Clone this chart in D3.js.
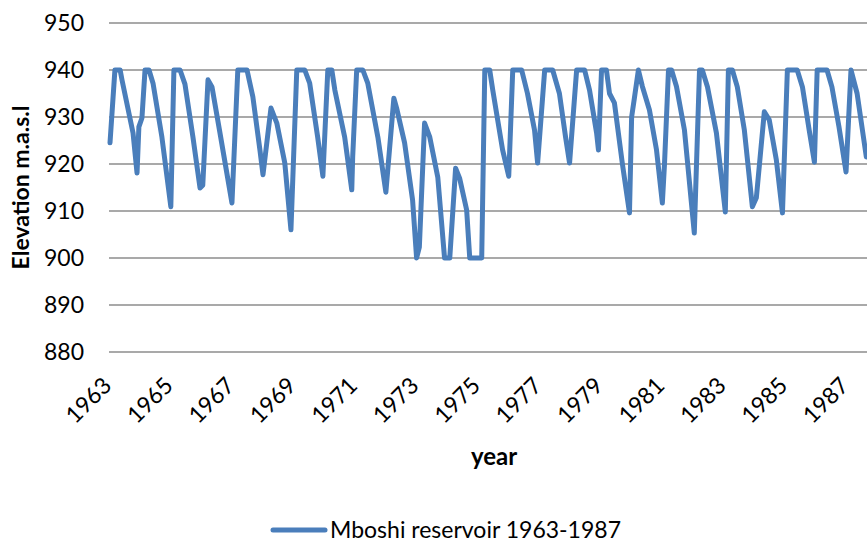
<!DOCTYPE html>
<html>
<head>
<meta charset="utf-8">
<script src="https://cdn.jsdelivr.net/npm/d3@7"></script>
<style>
  html, body { margin: 0; padding: 0; background: #fff; }
  svg { display: block; }
  text { font-family: Lato, "Open Sans", sans-serif; fill: #000; }
</style>
</head>
<body>
<svg id="chart" width="867" height="543"></svg>
<script>
// Mboshi reservoir water level, 1963-1987 (decimal year, elevation in m.a.s.l)
const years = [
  1963.00, 1963.16, 1963.33, 1963.39, 1963.75, 1963.88, 1963.94, 1964.04, 1964.14, 1964.27,
  1964.40, 1964.69, 1964.98, 1965.08, 1965.28, 1965.44, 1965.70, 1965.93, 1966.02, 1966.19,
  1966.32, 1966.58, 1966.97, 1967.16, 1967.46, 1967.65, 1967.88, 1967.98, 1968.24, 1968.43,
  1968.69, 1968.89, 1969.08, 1969.34, 1969.50, 1969.76, 1969.93, 1970.09, 1970.22, 1970.32,
  1970.64, 1970.87, 1970.90, 1971.03, 1971.23, 1971.39, 1971.72, 1971.98, 1972.24, 1972.33,
  1972.59, 1972.85, 1972.98, 1973.07, 1973.24, 1973.41, 1973.67, 1973.89, 1974.06, 1974.25,
  1974.38, 1974.61, 1974.71, 1975.10, 1975.20, 1975.36, 1975.46, 1975.78, 1975.98, 1976.11,
  1976.40, 1976.59, 1976.82, 1976.92, 1977.15, 1977.41, 1977.63, 1977.83, 1977.96, 1978.19,
  1978.45, 1978.61, 1978.84, 1978.90, 1979.00, 1979.16, 1979.26, 1979.42, 1979.68, 1979.91,
  1979.98, 1980.07, 1980.20, 1980.33, 1980.56, 1980.79, 1980.98, 1981.05, 1981.18, 1981.28,
  1981.44, 1981.70, 1982.02, 1982.19, 1982.28, 1982.45, 1982.74, 1983.03, 1983.13, 1983.26,
  1983.42, 1983.65, 1983.91, 1984.04, 1984.30, 1984.46, 1984.69, 1984.89, 1985.05, 1985.37,
  1985.54, 1985.76, 1985.93, 1986.02, 1986.34, 1986.50, 1986.73, 1986.96, 1987.12, 1987.32,
  1987.62
];
const elevation = [
  924.5, 940.0, 940.0, 937.9, 926.6, 918.1, 927.9, 929.8, 940.0, 940.0,
  937.2, 925.7, 910.9, 940.0, 940.0, 937.0, 925.7, 914.9, 915.5, 937.9,
  936.4, 926.6, 911.7, 940.0, 940.0, 934.3, 923.0, 917.7, 931.9, 928.7,
  920.2, 906.0, 940.0, 940.0, 937.2, 925.7, 917.4, 940.0, 940.0, 935.7,
  925.7, 914.5, 921.5, 940.0, 940.0, 937.2, 925.7, 914.0, 934.0, 931.9,
  924.5, 912.3, 900.0, 902.3, 928.7, 925.7, 917.2, 900.0, 900.0, 919.1,
  917.0, 910.2, 900.0, 900.0, 940.0, 940.0, 935.7, 923.0, 917.4, 940.0,
  940.0, 935.0, 927.2, 920.2, 940.0, 940.0, 935.0, 925.7, 920.2, 940.0,
  940.0, 935.7, 926.6, 923.0, 940.0, 940.0, 935.0, 933.0, 920.0, 909.6,
  930.0, 934.0, 940.0, 936.5, 931.5, 923.0, 911.7, 920.0, 940.0, 940.0,
  936.5, 927.2, 905.3, 940.0, 940.0, 936.4, 926.6, 909.8, 940.0, 940.0,
  936.4, 927.2, 910.9, 912.8, 931.1, 929.4, 920.9, 909.6, 940.0, 940.0,
  936.4, 927.2, 920.4, 940.0, 940.0, 936.4, 927.9, 918.3, 940.0, 935.0,
  921.5
];
const yearTicks = [1963, 1965, 1967, 1969, 1971, 1973, 1975, 1977, 1979, 1981, 1983, 1985, 1987];
const elevTicks = [880, 890, 900, 910, 920, 930, 940, 950];
const seriesName = "Mboshi reservoir 1963-1987";

const W = 867, H = 543;
const plot = { left: 110, right: 867, top: 23, bottom: 352 };
const pxPerYear = 30.72;

const svg = d3.select("#chart");

const x = d3.scaleLinear()
  .domain([1963, 1963 + (plot.right - plot.left) / pxPerYear])
  .range([plot.left, plot.right]);
const y = d3.scaleLinear()
  .domain([880, 950])
  .range([plot.bottom, plot.top]);

// horizontal gridlines
svg.append("g")
  .selectAll("line")
  .data(elevTicks)
  .join("line")
  .attr("x1", plot.left - 1)
  .attr("x2", W)
  .attr("y1", d => y(d))
  .attr("y2", d => y(d))
  .attr("stroke", "#8c8c8c")
  .attr("stroke-width", 1.6);

// y tick labels
svg.append("g")
  .selectAll("text")
  .data(elevTicks)
  .join("text")
  .attr("x", 84)
  .attr("y", d => y(d))
  .attr("dy", "0.35em")
  .attr("text-anchor", "end")
  .style("font-size", "23px")
  .text(d => d);

// x tick labels, rotated
svg.append("g")
  .selectAll("text")
  .data(yearTicks)
  .join("text")
  .attr("text-anchor", "end")
  .attr("transform", d => `translate(${x(d) + 3},387) rotate(-45)`)
  .style("font-size", "23px")
  .text(d => d);

// axis titles
svg.append("text")
  .attr("x", 494)
  .attr("y", 465)
  .attr("text-anchor", "middle")
  .style("font-size", "24px")
  .style("font-weight", "bold")
  .text("year");

svg.append("text")
  .attr("transform", `translate(29,${(plot.top + plot.bottom) / 2}) rotate(-90)`)
  .attr("text-anchor", "middle")
  .style("font-size", "23px")
  .style("font-weight", "bold")
  .text("Elevation m.a.s.l");

// reservoir level line
const points = years.map((t, i) => [t, elevation[i]]);
const line = d3.line()
  .x(d => x(d[0]))
  .y(d => y(d[1]));

svg.append("path")
  .datum(points)
  .attr("d", line)
  .attr("fill", "none")
  .attr("stroke", "#4a7ebb")
  .attr("stroke-width", 5)
  .attr("stroke-linejoin", "round")
  .attr("stroke-linecap", "round");

// legend
const legend = svg.append("g");
legend.append("line")
  .attr("x1", 273).attr("x2", 325)
  .attr("y1", 530).attr("y2", 530)
  .attr("stroke", "#4a7ebb")
  .attr("stroke-width", 5)
  .attr("stroke-linecap", "round");
legend.append("text")
  .attr("x", 330)
  .attr("y", 538)
  .style("font-size", "23px")
  .text(seriesName);
</script>
</body>
</html>
